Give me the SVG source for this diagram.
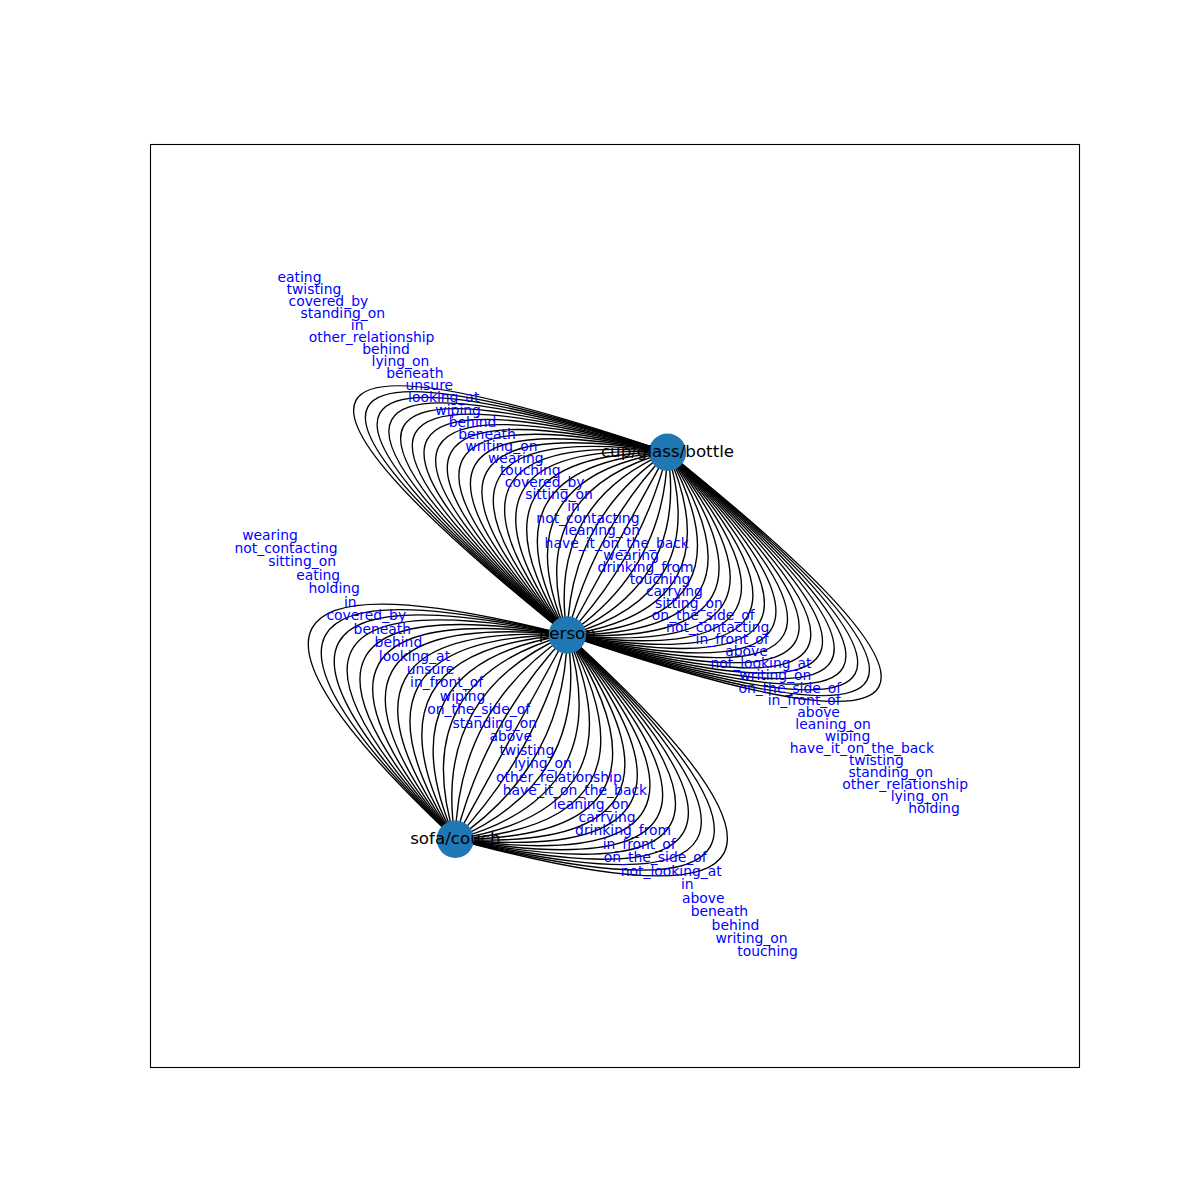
<svg xmlns="http://www.w3.org/2000/svg" width="1200" height="1200" viewBox="0 0 1200 1200">
<style>
.e{fill:none;stroke:#000;stroke-width:1.4}
.n{fill:#1f77b4}
.nl{font-family:"DejaVu Sans",sans-serif;font-size:16.7px;fill:#000;text-anchor:middle}
.el{font-family:"DejaVu Sans",sans-serif;font-size:13.9px;fill:#0000ff;text-anchor:middle}
</style>
<rect x="0" y="0" width="1200" height="1200" fill="#fff"/>
<rect x="150.5" y="144.5" width="929" height="923" fill="none" stroke="#000" stroke-width="1.1"/>
<g id="connectors">
<g id="person-cup">
<path class="e" d="M567.3,635 Q1140.21,830.17 667.5,452.2"/>
<path class="e" d="M567.3,635 Q1116.44,817.15 667.5,452.2"/>
<path class="e" d="M567.3,635 Q1092.68,804.12 667.5,452.2"/>
<path class="e" d="M567.3,635 Q1068.92,791.09 667.5,452.2"/>
<path class="e" d="M567.3,635 Q1045.15,778.07 667.5,452.2"/>
<path class="e" d="M567.3,635 Q1021.39,765.04 667.5,452.2"/>
<path class="e" d="M567.3,635 Q997.62,752.02 667.5,452.2"/>
<path class="e" d="M567.3,635 Q973.86,738.99 667.5,452.2"/>
<path class="e" d="M567.3,635 Q950.10,725.96 667.5,452.2"/>
<path class="e" d="M567.3,635 Q926.33,712.94 667.5,452.2"/>
<path class="e" d="M567.3,635 Q902.57,699.91 667.5,452.2"/>
<path class="e" d="M567.3,635 Q878.80,686.89 667.5,452.2"/>
<path class="e" d="M567.3,635 Q855.04,673.86 667.5,452.2"/>
<path class="e" d="M567.3,635 Q831.28,660.83 667.5,452.2"/>
<path class="e" d="M567.3,635 Q807.51,647.81 667.5,452.2"/>
<path class="e" d="M567.3,635 Q783.75,634.78 667.5,452.2"/>
<path class="e" d="M567.3,635 Q759.98,621.76 667.5,452.2"/>
<path class="e" d="M567.3,635 Q736.22,608.73 667.5,452.2"/>
<path class="e" d="M567.3,635 Q712.46,595.70 667.5,452.2"/>
<path class="e" d="M567.3,635 Q688.69,582.68 667.5,452.2"/>
<path class="e" d="M567.3,635 Q664.93,569.65 667.5,452.2"/>
<path class="e" d="M567.3,635 Q641.16,556.63 667.5,452.2"/>
<path class="e" d="M567.3,635 Q617.4,543.6 667.5,452.2"/>
<path class="e" d="M567.3,635 Q593.64,530.57 667.5,452.2"/>
<path class="e" d="M567.3,635 Q569.87,517.55 667.5,452.2"/>
<path class="e" d="M567.3,635 Q546.11,504.52 667.5,452.2"/>
<path class="e" d="M567.3,635 Q522.34,491.50 667.5,452.2"/>
<path class="e" d="M567.3,635 Q498.58,478.47 667.5,452.2"/>
<path class="e" d="M567.3,635 Q474.82,465.44 667.5,452.2"/>
<path class="e" d="M567.3,635 Q451.05,452.42 667.5,452.2"/>
<path class="e" d="M567.3,635 Q427.29,439.39 667.5,452.2"/>
<path class="e" d="M567.3,635 Q403.52,426.37 667.5,452.2"/>
<path class="e" d="M567.3,635 Q379.76,413.34 667.5,452.2"/>
<path class="e" d="M567.3,635 Q356.00,400.31 667.5,452.2"/>
<path class="e" d="M567.3,635 Q332.23,387.29 667.5,452.2"/>
<path class="e" d="M567.3,635 Q308.47,374.26 667.5,452.2"/>
<path class="e" d="M567.3,635 Q284.70,361.24 667.5,452.2"/>
<path class="e" d="M567.3,635 Q260.94,348.21 667.5,452.2"/>
<path class="e" d="M567.3,635 Q237.18,335.18 667.5,452.2"/>
<path class="e" d="M567.3,635 Q213.41,322.16 667.5,452.2"/>
<path class="e" d="M567.3,635 Q189.65,309.13 667.5,452.2"/>
<path class="e" d="M567.3,635 Q165.88,296.11 667.5,452.2"/>
<path class="e" d="M567.3,635 Q142.12,283.08 667.5,452.2"/>
<path class="e" d="M567.3,635 Q118.36,270.05 667.5,452.2"/>
<path class="e" d="M567.3,635 Q94.59,257.03 667.5,452.2"/>
</g>
<g id="person-sofa">
<path class="e" d="M567.3,635 Q113.11,518.70 455.3,839.2"/>
<path class="e" d="M567.3,635 Q139.66,533.26 455.3,839.2"/>
<path class="e" d="M567.3,635 Q166.20,547.82 455.3,839.2"/>
<path class="e" d="M567.3,635 Q192.75,562.38 455.3,839.2"/>
<path class="e" d="M567.3,635 Q219.29,576.94 455.3,839.2"/>
<path class="e" d="M567.3,635 Q245.84,591.50 455.3,839.2"/>
<path class="e" d="M567.3,635 Q272.39,606.06 455.3,839.2"/>
<path class="e" d="M567.3,635 Q298.93,620.62 455.3,839.2"/>
<path class="e" d="M567.3,635 Q325.48,635.18 455.3,839.2"/>
<path class="e" d="M567.3,635 Q352.02,649.74 455.3,839.2"/>
<path class="e" d="M567.3,635 Q378.57,664.30 455.3,839.2"/>
<path class="e" d="M567.3,635 Q405.12,678.86 455.3,839.2"/>
<path class="e" d="M567.3,635 Q431.66,693.42 455.3,839.2"/>
<path class="e" d="M567.3,635 Q458.21,707.98 455.3,839.2"/>
<path class="e" d="M567.3,635 Q484.75,722.54 455.3,839.2"/>
<path class="e" d="M567.3,635 Q511.3,737.1 455.3,839.2"/>
<path class="e" d="M567.3,635 Q537.85,751.66 455.3,839.2"/>
<path class="e" d="M567.3,635 Q564.39,766.22 455.3,839.2"/>
<path class="e" d="M567.3,635 Q590.94,780.78 455.3,839.2"/>
<path class="e" d="M567.3,635 Q617.48,795.34 455.3,839.2"/>
<path class="e" d="M567.3,635 Q644.03,809.90 455.3,839.2"/>
<path class="e" d="M567.3,635 Q670.58,824.46 455.3,839.2"/>
<path class="e" d="M567.3,635 Q697.12,839.02 455.3,839.2"/>
<path class="e" d="M567.3,635 Q723.67,853.58 455.3,839.2"/>
<path class="e" d="M567.3,635 Q750.21,868.14 455.3,839.2"/>
<path class="e" d="M567.3,635 Q776.76,882.70 455.3,839.2"/>
<path class="e" d="M567.3,635 Q803.31,897.26 455.3,839.2"/>
<path class="e" d="M567.3,635 Q829.85,911.82 455.3,839.2"/>
<path class="e" d="M567.3,635 Q856.40,926.38 455.3,839.2"/>
<path class="e" d="M567.3,635 Q882.94,940.94 455.3,839.2"/>
<path class="e" d="M567.3,635 Q909.49,955.50 455.3,839.2"/>
<path class="e" d="M567.3,635 Q936.04,970.06 455.3,839.2"/>
</g>
</g>
<g id="node-person"><circle class="n" cx="567.3" cy="635" r="18.7"/><text class="nl" x="567.3" y="639.3">person</text></g>
<g id="node-cup"><circle class="n" cx="667.5" cy="452.2" r="18.7"/><text class="nl" x="667.5" y="456.5">cup/glass/bottle</text></g>
<g id="node-sofa"><circle class="n" cx="455.3" cy="839.2" r="18.7"/><text class="nl" x="455.3" y="843.5">sofa/couch</text></g>
<g id="edge-labels-person-cup">
<text class="el" x="299.51" y="281.52">eating</text>
<text class="el" x="313.93" y="293.61">twisting</text>
<text class="el" x="328.35" y="305.70">covered_by</text>
<text class="el" x="342.77" y="317.79">standing_on</text>
<text class="el" x="357.19" y="329.88">in</text>
<text class="el" x="371.61" y="341.97">other_relationship</text>
<text class="el" x="386.03" y="354.06">behind</text>
<text class="el" x="400.45" y="366.15">lying_on</text>
<text class="el" x="414.87" y="378.24">beneath</text>
<text class="el" x="429.29" y="390.33">unsure</text>
<text class="el" x="443.71" y="402.42">looking_at</text>
<text class="el" x="458.13" y="414.51">wiping</text>
<text class="el" x="472.55" y="426.60">behind</text>
<text class="el" x="486.97" y="438.69">beneath</text>
<text class="el" x="501.39" y="450.78">writing_on</text>
<text class="el" x="515.81" y="462.87">wearing</text>
<text class="el" x="530.23" y="474.96">touching</text>
<text class="el" x="544.65" y="487.05">covered_by</text>
<text class="el" x="559.07" y="499.14">sitting_on</text>
<text class="el" x="573.49" y="511.23">in</text>
<text class="el" x="587.91" y="523.32">not_contacting</text>
<text class="el" x="602.33" y="535.41">leaning_on</text>
<text class="el" x="616.75" y="547.50">have_it_on_the_back</text>
<text class="el" x="631.17" y="559.59">wearing</text>
<text class="el" x="645.59" y="571.68">drinking_from</text>
<text class="el" x="660.01" y="583.77">touching</text>
<text class="el" x="674.43" y="595.86">carrying</text>
<text class="el" x="688.85" y="607.95">sitting_on</text>
<text class="el" x="703.27" y="620.04">on_the_side_of</text>
<text class="el" x="717.69" y="632.13">not_contacting</text>
<text class="el" x="732.11" y="644.22">in_front_of</text>
<text class="el" x="746.53" y="656.31">above</text>
<text class="el" x="760.95" y="668.40">not_looking_at</text>
<text class="el" x="775.37" y="680.49">writing_on</text>
<text class="el" x="789.79" y="692.58">on_the_side_of</text>
<text class="el" x="804.21" y="704.67">in_front_of</text>
<text class="el" x="818.63" y="716.76">above</text>
<text class="el" x="833.05" y="728.85">leaning_on</text>
<text class="el" x="847.47" y="740.94">wiping</text>
<text class="el" x="861.89" y="753.03">have_it_on_the_back</text>
<text class="el" x="876.31" y="765.12">twisting</text>
<text class="el" x="890.73" y="777.21">standing_on</text>
<text class="el" x="905.15" y="789.30">other_relationship</text>
<text class="el" x="919.57" y="801.39">lying_on</text>
<text class="el" x="933.99" y="813.48">holding</text>
</g>
<g id="edge-labels-person-sofa">
<text class="el" x="270" y="539.5">wearing</text>
<text class="el" x="286.05" y="552.95">not_contacting</text>
<text class="el" x="302.10" y="566.40">sitting_on</text>
<text class="el" x="318.15" y="579.85">eating</text>
<text class="el" x="334.20" y="593.30">holding</text>
<text class="el" x="350.25" y="606.75">in</text>
<text class="el" x="366.30" y="620.20">covered_by</text>
<text class="el" x="382.35" y="633.65">beneath</text>
<text class="el" x="398.40" y="647.10">behind</text>
<text class="el" x="414.45" y="660.55">looking_at</text>
<text class="el" x="430.50" y="674.00">unsure</text>
<text class="el" x="446.55" y="687.45">in_front_of</text>
<text class="el" x="462.60" y="700.90">wiping</text>
<text class="el" x="478.65" y="714.35">on_the_side_of</text>
<text class="el" x="494.70" y="727.80">standing_on</text>
<text class="el" x="510.75" y="741.25">above</text>
<text class="el" x="526.80" y="754.70">twisting</text>
<text class="el" x="542.85" y="768.15">lying_on</text>
<text class="el" x="558.90" y="781.60">other_relationship</text>
<text class="el" x="574.95" y="795.05">have_it_on_the_back</text>
<text class="el" x="591.00" y="808.50">leaning_on</text>
<text class="el" x="607.05" y="821.95">carrying</text>
<text class="el" x="623.10" y="835.40">drinking_from</text>
<text class="el" x="639.15" y="848.85">in_front_of</text>
<text class="el" x="655.20" y="862.30">on_the_side_of</text>
<text class="el" x="671.25" y="875.75">not_looking_at</text>
<text class="el" x="687.30" y="889.20">in</text>
<text class="el" x="703.35" y="902.65">above</text>
<text class="el" x="719.40" y="916.10">beneath</text>
<text class="el" x="735.45" y="929.55">behind</text>
<text class="el" x="751.50" y="943.00">writing_on</text>
<text class="el" x="767.55" y="956.45">touching</text>
</g>
</svg>
